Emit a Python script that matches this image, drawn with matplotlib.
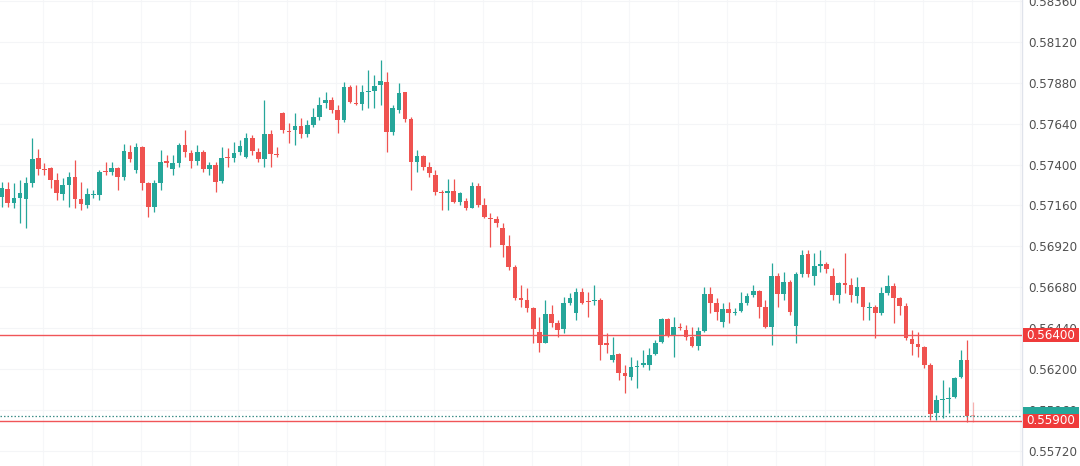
import matplotlib
matplotlib.use("Agg")
import matplotlib.pyplot as plt
import matplotlib.transforms as mtransforms
from matplotlib.patches import Rectangle
from matplotlib.colors import to_rgba
import numpy as np

opens = [
    0.57210, 0.57257, 0.57175, 0.57204, 0.57198, 0.57292, 0.57438, 0.57374, 0.57380, 0.57309,
    0.57227, 0.57280, 0.57327, 0.57198, 0.57163, 0.57221, 0.57221, 0.57362, 0.57356, 0.57380,
    0.57327, 0.57473, 0.57368, 0.57502, 0.57292, 0.57151, 0.57292, 0.57421, 0.57374, 0.57409,
    0.57514, 0.57467, 0.57421, 0.57473, 0.57374, 0.57397, 0.57303, 0.57444, 0.57438, 0.57473,
    0.57444, 0.57555, 0.57473, 0.57432, 0.57579, 0.57461, 0.57702, 0.57596, 0.57602, 0.57625,
    0.57579, 0.57631, 0.57678, 0.57760, 0.57778, 0.57719, 0.57661, 0.57854, 0.57760, 0.57754,
    0.57824, 0.57830, 0.57865, 0.57883, 0.57590, 0.57719, 0.57824, 0.57666, 0.57415, 0.57450,
    0.57385, 0.57339, 0.57239, 0.57233, 0.57245, 0.57181, 0.57186, 0.57145, 0.57274, 0.57163,
    0.57087, 0.57081, 0.57028, 0.56923, 0.56800, 0.56618, 0.56607, 0.56560, 0.56419, 0.56355,
    0.56525, 0.56472, 0.56437, 0.56589, 0.56531, 0.56654, 0.56601, 0.56601, 0.56607, 0.56355,
    0.56256, 0.56291, 0.56179, 0.56156, 0.56215, 0.56226, 0.56226, 0.56291, 0.56361, 0.56496,
    0.56402, 0.56449, 0.56431, 0.56390, 0.56337, 0.56425, 0.56642, 0.56589, 0.56478, 0.56554,
    0.56531, 0.56542, 0.56589, 0.56636, 0.56659, 0.56566, 0.56449, 0.56747, 0.56642, 0.56712,
    0.56455, 0.56759, 0.56876, 0.56747, 0.56806, 0.56818, 0.56747, 0.56636, 0.56706, 0.56695,
    0.56630, 0.56683, 0.56560, 0.56566, 0.56531, 0.56648, 0.56689, 0.56618, 0.56572, 0.56379,
    0.56349, 0.56332, 0.56226, 0.55945, 0.56021, 0.56027, 0.56039, 0.56156, 0.56256, 0.55934,
]
highs = [
    0.57298, 0.57298, 0.57292, 0.57309, 0.57327, 0.57555, 0.57491, 0.57409, 0.57385, 0.57350,
    0.57321, 0.57356, 0.57426, 0.57298, 0.57262, 0.57251, 0.57368, 0.57415, 0.57415, 0.57385,
    0.57520, 0.57514, 0.57526, 0.57508, 0.57298, 0.57309, 0.57485, 0.57456, 0.57456, 0.57526,
    0.57602, 0.57485, 0.57514, 0.57485, 0.57415, 0.57415, 0.57502, 0.57497, 0.57532, 0.57543,
    0.57584, 0.57573, 0.57497, 0.57778, 0.57602, 0.57502, 0.57707, 0.57643, 0.57702, 0.57672,
    0.57661, 0.57731, 0.57795, 0.57824, 0.57795, 0.57748, 0.57883, 0.57865, 0.57865, 0.57865,
    0.57953, 0.57924, 0.58012, 0.57942, 0.57748, 0.57877, 0.57824, 0.57678, 0.57485, 0.57456,
    0.57415, 0.57368, 0.57251, 0.57315, 0.57315, 0.57239, 0.57204, 0.57298, 0.57292, 0.57204,
    0.57116, 0.57099, 0.57058, 0.56987, 0.56812, 0.56695, 0.56677, 0.56566, 0.56507, 0.56607,
    0.56578, 0.56490, 0.56624, 0.56648, 0.56677, 0.56677, 0.56654, 0.56695, 0.56618, 0.56414,
    0.56390, 0.56297, 0.56226, 0.56273, 0.56256, 0.56314, 0.56326, 0.56373, 0.56501, 0.56501,
    0.56507, 0.56472, 0.56460, 0.56449, 0.56449, 0.56683, 0.56683, 0.56618, 0.56589, 0.56595,
    0.56560, 0.56654, 0.56648, 0.56695, 0.56665, 0.56607, 0.56823, 0.56765, 0.56771, 0.56724,
    0.56771, 0.56900, 0.56900, 0.56882, 0.56900, 0.56829, 0.56794, 0.56712, 0.56882, 0.56736,
    0.56741, 0.56683, 0.56595, 0.56578, 0.56683, 0.56753, 0.56706, 0.56624, 0.56589, 0.56431,
    0.56419, 0.56337, 0.56238, 0.56051, 0.56139, 0.56098, 0.56156, 0.56314, 0.56373, 0.56010,
]
lows = [
    0.57151, 0.57151, 0.57145, 0.57058, 0.57028, 0.57268, 0.57339, 0.57339, 0.57262, 0.57192,
    0.57192, 0.57151, 0.57145, 0.57134, 0.57145, 0.57204, 0.57192, 0.57339, 0.57339, 0.57251,
    0.57309, 0.57415, 0.57350, 0.57251, 0.57093, 0.57122, 0.57251, 0.57385, 0.57339, 0.57385,
    0.57444, 0.57380, 0.57397, 0.57356, 0.57339, 0.57239, 0.57292, 0.57385, 0.57415, 0.57456,
    0.57438, 0.57456, 0.57415, 0.57385, 0.57385, 0.57444, 0.57584, 0.57526, 0.57514, 0.57555,
    0.57561, 0.57620, 0.57661, 0.57731, 0.57702, 0.57584, 0.57649, 0.57760, 0.57748, 0.57719,
    0.57731, 0.57731, 0.57748, 0.57473, 0.57573, 0.57702, 0.57649, 0.57251, 0.57356, 0.57368,
    0.57327, 0.57221, 0.57134, 0.57134, 0.57175, 0.57163, 0.57134, 0.57145, 0.57151, 0.57087,
    0.56917, 0.57034, 0.56859, 0.56782, 0.56607, 0.56566, 0.56537, 0.56355, 0.56302, 0.56355,
    0.56449, 0.56390, 0.56414, 0.56578, 0.56490, 0.56583, 0.56507, 0.56578, 0.56256, 0.56297,
    0.56244, 0.56139, 0.56062, 0.56139, 0.56092, 0.56215, 0.56197, 0.56285, 0.56355, 0.56390,
    0.56273, 0.56431, 0.56373, 0.56332, 0.56314, 0.56419, 0.56531, 0.56490, 0.56449, 0.56472,
    0.56519, 0.56537, 0.56578, 0.56624, 0.56501, 0.56443, 0.56343, 0.56566, 0.56607, 0.56519,
    0.56355, 0.56741, 0.56741, 0.56695, 0.56771, 0.56765, 0.56607, 0.56589, 0.56648, 0.56595,
    0.56589, 0.56490, 0.56490, 0.56384, 0.56519, 0.56636, 0.56472, 0.56519, 0.56373, 0.56285,
    0.56273, 0.56209, 0.55904, 0.55904, 0.55916, 0.55945, 0.56033, 0.56150, 0.55893, 0.55893,
]
closes = [
    0.57262, 0.57175, 0.57204, 0.57233, 0.57292, 0.57432, 0.57374, 0.57368, 0.57309, 0.57233,
    0.57280, 0.57327, 0.57198, 0.57169, 0.57227, 0.57227, 0.57356, 0.57356, 0.57380, 0.57327,
    0.57479, 0.57432, 0.57502, 0.57292, 0.57151, 0.57292, 0.57415, 0.57409, 0.57409, 0.57514,
    0.57473, 0.57421, 0.57473, 0.57374, 0.57397, 0.57298, 0.57438, 0.57438, 0.57467, 0.57508,
    0.57555, 0.57479, 0.57432, 0.57579, 0.57461, 0.57456, 0.57602, 0.57590, 0.57625, 0.57579,
    0.57631, 0.57678, 0.57748, 0.57778, 0.57719, 0.57661, 0.57854, 0.57766, 0.57754, 0.57824,
    0.57830, 0.57860, 0.57889, 0.57590, 0.57731, 0.57819, 0.57666, 0.57415, 0.57450, 0.57385,
    0.57350, 0.57239, 0.57233, 0.57245, 0.57181, 0.57233, 0.57145, 0.57274, 0.57163, 0.57093,
    0.57081, 0.57058, 0.56929, 0.56800, 0.56618, 0.56607, 0.56560, 0.56437, 0.56355, 0.56525,
    0.56472, 0.56431, 0.56589, 0.56618, 0.56654, 0.56589, 0.56595, 0.56607, 0.56343, 0.56343,
    0.56285, 0.56179, 0.56162, 0.56215, 0.56220, 0.56238, 0.56285, 0.56355, 0.56496, 0.56402,
    0.56449, 0.56443, 0.56390, 0.56337, 0.56425, 0.56642, 0.56589, 0.56537, 0.56554, 0.56531,
    0.56537, 0.56589, 0.56630, 0.56659, 0.56566, 0.56449, 0.56747, 0.56642, 0.56712, 0.56537,
    0.56759, 0.56870, 0.56759, 0.56806, 0.56818, 0.56788, 0.56636, 0.56706, 0.56695, 0.56636,
    0.56683, 0.56566, 0.56566, 0.56531, 0.56648, 0.56689, 0.56618, 0.56572, 0.56384, 0.56349,
    0.56332, 0.56226, 0.55939, 0.56021, 0.56027, 0.56033, 0.56150, 0.56256, 0.55928, 0.55928,
]

price_ticks = [0.58360, 0.58120, 0.57880, 0.57640, 0.57400, 0.57160,
               0.56920, 0.56680, 0.56440, 0.56200, 0.55960, 0.55720]
levels = [0.56400, 0.55900]
last_price = 0.55928

UP = "#26a69a"
DOWN = "#ef5350"

fig = plt.figure(figsize=(10.8, 4.66), dpi=100)
ax = fig.add_axes([0, 0, 1022 / 1080, 1])

o = np.array(opens); h = np.array(highs); l = np.array(lows); c = np.array(closes)
n = len(o)
x = np.arange(n)
up = c >= o
cols = np.where(up, UP, DOWN).tolist()
alphas = [1.0] * n
alphas[-1] = 0.45
rgba = [to_rgba(col, a) for col, a in zip(cols, alphas)]

ax.vlines(x, l, h, colors=rgba, linewidth=0.9, zorder=3)
body_h = np.maximum(np.abs(c - o), 0.00005)
ax.bar(x, body_h, bottom=np.minimum(o, c), width=0.76, color=rgba,
       linewidth=0, zorder=4)

ax.set_xlim(-0.28, 167.0)
ax.set_ylim(0.55635, 0.58363)

ax.set_yticks(price_ticks)
ax.set_yticklabels([f"{t:.5f}" for t in price_ticks])
ax.set_xticks(np.arange(6.75, 167, 8))
ax.tick_params(axis="x", length=0, labelbottom=False)
ax.yaxis.tick_right()
ax.tick_params(axis="y", length=0, pad=4.5, labelsize=8.6, labelcolor="#505050")
ax.grid(True, axis="y", color="#f4f5f7", linewidth=0.8, zorder=0)
ax.grid(True, axis="x", color="#f6f7f9", linewidth=0.8, zorder=0)
ax.set_axisbelow(True)
for s in ["top", "left", "bottom"]:
    ax.spines[s].set_visible(False)
ax.spines["right"].set_color("#e0e3eb")
ax.spines["right"].set_linewidth(1.0)

for lv in levels:
    ax.axhline(lv, color="#f05558", linewidth=1.0, zorder=5)
ax.axhline(last_price, color="#3f8f88", linewidth=0.9,
           linestyle=(0, (1.2, 1.6)), zorder=5)

trans = mtransforms.blended_transform_factory(ax.transAxes, ax.transData)
bh = 0.00082
ax.add_patch(Rectangle((1.0005, last_price - bh / 2 + 0.00010), 0.0555, bh,
                       transform=trans, facecolor=UP, edgecolor="none",
                       clip_on=False, zorder=8))
for lv in levels:
    ax.add_patch(Rectangle((1.0005, lv - bh / 2), 0.0555, bh, transform=trans,
                           facecolor="#ef3b3b", edgecolor="none",
                           clip_on=False, zorder=9))
    ax.text(1.0045, lv, f"{lv:.5f}", transform=trans, color="white",
            fontsize=8.6, va="center", ha="left",
            zorder=10, clip_on=False)

fig.savefig("out.png", dpi=100, facecolor="white")
